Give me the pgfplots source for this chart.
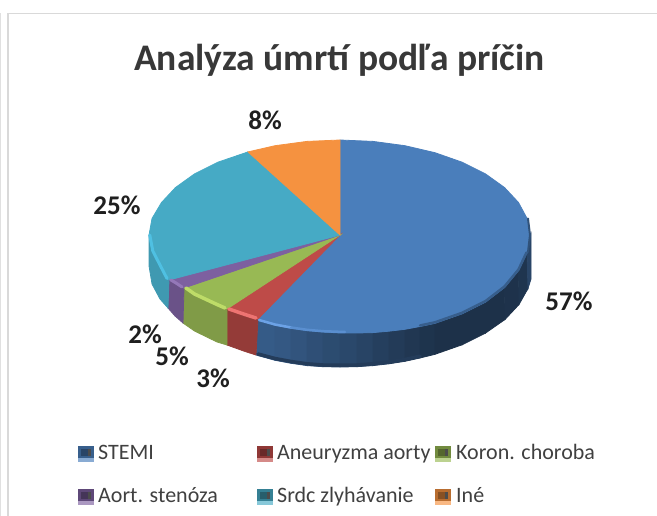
\documentclass[border=0pt]{standalone}
\usepackage{pgfplots}
\pgfplotsset{compat=1.18}
\usepackage{fontspec}
\setmainfont{Carlito}
\definecolor{tb}{HTML}{4A7EBB}\definecolor{tr}{HTML}{BE4B48}\definecolor{tg}{HTML}{98B954}
\definecolor{tp}{HTML}{7D60A0}\definecolor{tt}{HTML}{46AAC5}\definecolor{to}{HTML}{F59240}
\definecolor{hb}{HTML}{6CA2E6}\definecolor{hb2}{HTML}{5A8FD0}\definecolor{hr}{HTML}{EE7472}
\definecolor{hg}{HTML}{BEDC68}\definecolor{hp}{HTML}{9478B8}\definecolor{ht}{HTML}{4FC0E2}
\newcommand{\seg}[2]{\addplot[fill=#1,draw=#1,line width=0.8pt] coordinates {#2} -- cycle;}
\newcommand{\rim}[3]{\addplot[color=#1,line width=#2,line cap=round] coordinates {#3};}
\newcommand{\swatch}[3]{%
 \fill[#3!65!white] (axis cs:#1,#2) rectangle (axis cs:#1+16,#2+16);
 \fill[#3!75!black] (axis cs:#1,#2) rectangle (axis cs:#1+16,#2+12);
 \fill[#3!55!black] (axis cs:#1+3,#2+3) rectangle (axis cs:#1+10,#2+10);
 \fill[black!70] (axis cs:#1+10,#2+3) rectangle (axis cs:#1+13,#2+10);}
\begin{document}
\begin{tikzpicture}
\useasboundingbox (0,0) rectangle (657pt,516pt);
\begin{axis}[at={(0,0)},anchor=south west,width=657pt,height=516pt,scale only axis,hide axis,
 xmin=0,xmax=657,ymin=0,ymax=516,y dir=reverse,clip=false]
% frame
\addplot[color=black!15,line width=1.5pt] coordinates {(657,13.5) (8,13.5) (8,516)};
\addplot[color=black!12,line width=1pt] coordinates {(0.5,13) (0.5,516)};
% blue side, gradient across segments
\seg{tb!72!black}{(258,319)(275,325.3)(275,360.3)(256,355)}
\seg{tb!70!black}{(275,325.3)(291,328.3)(291,363.3)(275,360.3)}
\seg{tb!67!black}{(291,328.3)(307,330.6)(307,365.6)(291,363.3)}
\seg{tb!63!black}{(307,330.6)(323,332)(323,366.7)(307,365.6)}
\seg{tb!60!black}{(323,332)(340,333)(340,367)(323,366.7)}
\seg{tb!57!black}{(340,333)(357,333)(357,366.7)(340,367)}
\seg{tb!54!black}{(357,333)(373,332.6)(373,365.6)(357,366.7)}
\seg{tb!50!black}{(373,332.6)(389,331.2)(389,363.8)(373,365.6)}
\seg{tb!47!black}{(389,331.2)(405,329.3)(405,361.3)(389,363.8)}
\seg{tb!44!black}{(405,329.3)(420,326.5)(420,358)(405,361.3)}
\seg{tb!41!black}{(420,326.5)(435,323.3)(435,354.3)(420,358)}
\seg{tb!39!black}{(435,323.3)(462.1,313.8)(462.1,344.8)(435,354.3)}
\seg{tb!39!black}{(462.1,313.8)(485.5,302.1)(485.5,333.1)(462.1,344.8)}
\seg{tb!39!black}{(485.5,302.1)(504.5,287.5)(505,319.5)(485.5,333.1)}
\seg{tb!40!black}{(504.5,287.5)(518.5,270.5)(519,304.5)(505,319.5)}
\seg{tb!42!black}{(518.5,270.5)(527.1,252.5)(528,288.5)(519,304.5)}
\seg{tb!55!black}{(527.1,252.5)(530,235)(531,233)(531,279)(528,288.5)}
% other sides
\seg{tr!78!black}{(258,319)(245,315.5)(227,309)(227,345)(245,351.5)(256,355)}
\seg{tg!84!black}{(227,309)(217,305.5)(194.5,295)(184,288)(183,323)(194.5,331)(217,342)(227,345)}
\seg{tp!85!black}{(184,288)(176,284)(169,280)(168,308)(175,316)(183,323)}
\seg{tt!90!black}{(169,280)(161,267)(152,251)(149,235)(149,266)(152,284)(160,299)(168,308)}
% bottom dark edge of the side
\rim{tb!48!black}{3.5pt}{(258,354)(275,358.5)(291,361.5)(307,363.8)(323,365)(340,365.2)(357,365)(373,363.8)(389,362)(405,359.5)(420,356.2)}
% top surface
\seg{tb}{(340,235)(340,140)(373,141.4)(405,145.7)(435,152.7)(462.1,162.2)(485.5,173.9)(504.5,187.5)(518.5,202.5)(527.1,218.5)(530,235)(527.1,252.5)(518.5,270.5)(504.5,287.5)(485.5,302.1)(462.1,313.8)(435,323.3)(420,326.5)(405,329.3)(389,331.2)(373,332.6)(357,333)(340,333)(323,332)(307,330.6)(291,328.3)(275,325.3)(258,319)}
\seg{tr}{(340,235)(258,319)(245,315.5)(227,309)}
\seg{tg}{(340,235)(227,309)(217,305.5)(194.5,295)(184,288)}
\seg{tp}{(340,235)(184,288)(176,284)(169,280)}
\seg{tt}{(340,235)(169,280)(161,267)(152,251)(149,235)(152,218.5)(161.5,202.5)(175.5,187.5)(194.5,173.9)(217.9,162.2)(248,151.9)}
\seg{to}{(340,235)(248,151.9)(275,145.7)(307,141.4)(340,140)}
% rim highlights
\rim{hb}{2.5pt}{(259,320)(275,324.5)(291,327.5)}
\rim{hb2}{2.5pt}{(291,327.5)(307,329.8)(323,331.2)(345,332)}
\rim{tb!65!black}{2pt}{(528,252)(530,235)(528,218.5)}
\rim{tb!75!black}{2.5pt}{(420,325.5)(435,322.3)(462.1,312.8)(485.5,301.1)(504.5,286.5)(518.5,269.5)(526.5,252.5)}
\rim{hr}{3.5pt}{(256,318)(245,314.5)(229,309)}
\rim{hg}{3.5pt}{(225,308)(217,304.5)(194.5,294)(186,288)}
\rim{hp}{3pt}{(182,287)(176,283)(171,280)}
\rim{ht}{3pt}{(167,278.5)(160.5,266)(152.8,251)(149.8,235)}
% data labels
\tikzset{dl/.style={font=\bfseries\fontsize{27}{27}\selectfont,text=black!88}}
\node[dl] at (axis cs:265,120) {8\%};
\node[dl] at (axis cs:117,205) {25\%};
\node[dl] at (axis cs:569,301) {57\%};
\node[dl] at (axis cs:145,334) {2\%};
\node[dl] at (axis cs:172,356) {5\%};
\node[dl] at (axis cs:213,378) {3\%};
% title
\node[font=\bfseries\fontsize{37.5}{38}\selectfont,text=black!78] at (axis cs:339.5,60) {Analýza úmrtí podľa príčin};
% legend
\swatch{78}{446}{tb}
\swatch{257}{446}{tr}
\swatch{435}{446}{tg}
\swatch{78}{489}{tp}
\swatch{257}{489}{tt}
\swatch{435}{489}{to}
\tikzset{lg/.style={anchor=base west,inner sep=0pt,font=\fontsize{22}{22}\selectfont,text=black!75}}
\node[lg] at (axis cs:98,459) {STEMI};
\node[lg] at (axis cs:277,459) {Aneuryzma aorty};
\node[lg] at (axis cs:456,459) {Koron. choroba};
\node[lg] at (axis cs:98,502) {Aort. stenóza};
\node[lg] at (axis cs:277,502) {Srdc zlyhávanie};
\node[lg] at (axis cs:456,502) {Iné};
\end{axis}
\end{tikzpicture}
\end{document}
